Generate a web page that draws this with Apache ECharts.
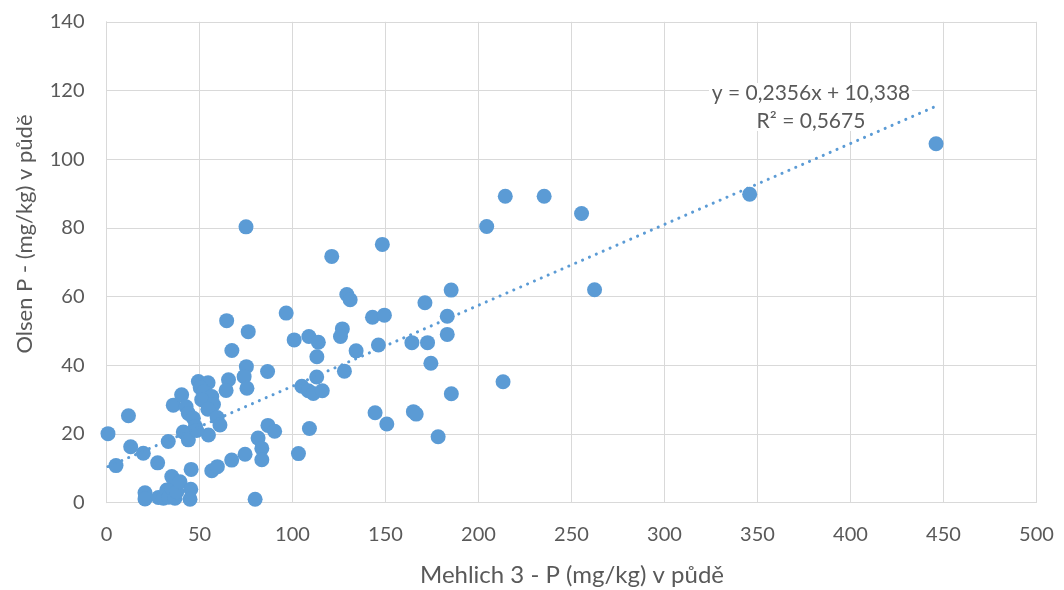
<!DOCTYPE html>
<html>
<head>
<meta charset="utf-8">
<script src="https://cdn.jsdelivr.net/npm/echarts@6/dist/echarts.min.js"></script>
<style>
  html, body { margin: 0; padding: 0; background: #ffffff; }
  #chart { width: 1064px; height: 590px; }
</style>
</head>
<body>
<div id="chart"></div>
<script>
// Mehlich 3 - P (x) and Olsen P (y), mg/kg, one entry per soil sample
const mehlichP = [
  0.8, 5.1, 11.8, 13.0, 19.8, 20.7, 20.7, 27.5, 27.9,
  30.6, 32.4, 33.5, 35.1, 36.8, 37.8, 35.1, 39.5, 45.3, 44.9, 45.5, 56.6, 59.6,
  33.2, 35.9, 40.4, 41.3, 44.0, 42.8, 44.0, 46.7, 47.8, 49.4, 54.6, 50.4, 52.2, 56.6, 51.2, 57.5, 54.5, 59.5, 61.0, 54.8, 48.5,
  64.6, 96.6, 76.2, 67.4, 75.2, 86.6, 74.0, 65.6, 64.3, 75.5, 75.0, 86.8, 90.4, 81.5, 83.5, 83.5, 74.5, 67.3, 79.9,
  100.9, 108.8, 113.9, 113.1, 113.0, 105.0, 108.5, 111.2, 116.0, 103.2, 109.1, 121.1, 129.2, 131.0, 126.8, 125.8, 127.9, 134.2, 143.0, 149.4, 146.2, 144.4, 150.7, 148.3,
  171.2, 164.2, 172.6, 174.4, 165.0, 166.5, 178.3, 183.2, 183.2, 185.3, 185.4, 204.4, 213.2, 214.4, 235.3, 255.4, 262.4, 345.8, 446.0
];
const olsenP = [
  20.1, 10.8, 25.3, 16.3, 14.4, 2.9, 1.1, 11.6, 1.5,
  1.3, 3.7, 1.6, 4.2, 1.3, 3.2, 7.6, 6.1, 3.9, 1.0, 9.7, 9.3, 10.5,
  17.8, 28.4, 31.4, 20.6, 18.3, 27.9, 26.0, 24.6, 22.2, 35.3, 34.9, 33.5, 32.2, 30.9, 30.0, 28.6, 27.2, 24.8, 22.6, 19.7, 21.0,
  53.0, 55.2, 49.8, 44.3, 39.6, 38.2, 36.7, 35.8, 32.7, 33.3, 80.3, 22.5, 20.8, 18.8, 15.8, 12.5, 14.1, 12.4, 1.0,
  47.4, 48.4, 46.7, 42.5, 36.6, 33.9, 32.6, 31.8, 32.6, 14.3, 21.6, 71.7, 60.6, 59.1, 50.6, 48.4, 38.3, 44.2, 54.0, 54.6, 45.9, 26.2, 22.9, 75.2,
  58.2, 46.6, 46.6, 40.6, 26.5, 25.8, 19.2, 54.3, 49.0, 61.9, 31.7, 80.4, 35.2, 89.2, 89.2, 84.2, 62.0, 89.8, 104.5
];

// Linear trend fitted to the samples
const trendSlope = 0.2356;
const trendIntercept = 10.338;
const trendR2 = 0.5675;

// Axis ranges and labels
const xTickValues = [0, 50, 100, 150, 200, 250, 300, 350, 400, 450, 500];
const yTickValues = [0, 20, 40, 60, 80, 100, 120, 140];
const xAxisTitle = 'Mehlich 3 - P (mg/kg) v půdě';
const yAxisTitle = 'Olsen P - (mg/kg) v půdě';

const points = mehlichP.map((x, i) => [x, olsenP[i]]);
const xMin = Math.min(...mehlichP);
const xMax = Math.max(...mehlichP);
const trendLine = [xMin, xMax].map(x => [x, trendSlope * x + trendIntercept]);
const decimalComma = v => String(v).replace('.', ',');
const equationText = 'y = ' + decimalComma(trendSlope) + 'x + ' + decimalComma(trendIntercept);
const r2Text = 'R² = ' + decimalComma(trendR2);

const FONT = 'Lato, "Open Sans", sans-serif';
const TEXT = '#595959';
const GRID = '#d9d9d9';
const BLUE = '#5b9bd5';

const chart = echarts.init(document.getElementById('chart'), null, { renderer: 'canvas' });
chart.setOption({
  animation: false,
  backgroundColor: '#ffffff',
  textStyle: { fontFamily: FONT },
  grid: { left: 106.5, right: 27.5, top: 21.8, bottom: 87.3, containLabel: false, outerBoundsMode: 'none' },
  xAxis: {
    type: 'value',
    min: xTickValues[0],
    max: xTickValues[xTickValues.length - 1],
    interval: xTickValues[1] - xTickValues[0],
    axisLine: { show: true, lineStyle: { color: GRID, width: 1 } },
    axisTick: { show: false },
    axisLabel: { color: TEXT, fontSize: 20, fontFamily: FONT, margin: 22 },
    splitLine: { show: true, lineStyle: { color: GRID, width: 1 } }
  },
  yAxis: {
    type: 'value',
    min: yTickValues[0],
    max: yTickValues[yTickValues.length - 1],
    interval: yTickValues[1] - yTickValues[0],
    axisLine: { show: true, lineStyle: { color: GRID, width: 1 } },
    axisTick: { show: false },
    axisLabel: { color: TEXT, fontSize: 20, fontFamily: FONT, margin: 22 },
    splitLine: { show: true, lineStyle: { color: GRID, width: 1 } }
  },
  series: [
    {
      type: 'scatter',
      data: points,
      symbol: 'circle',
      symbolSize: 15,
      itemStyle: { color: BLUE, opacity: 1 },
      z: 2
    },
    {
      type: 'line',
      data: trendLine,
      symbol: 'none',
      silent: true,
      lineStyle: { color: BLUE, width: 3, type: [0.1, 7.4], cap: 'round' },
      z: 3
    }
  ],
  graphic: [
    // white panel behind the trend equation, hiding the grid lines under it
    {
      type: 'rect', z: 1, silent: true,
      shape: { x: 709, y: 83, width: 203, height: 48 },
      style: { fill: '#ffffff' }
    },
    {
      type: 'text', x: 811, y: 93, z: 1, silent: true,
      style: { text: equationText, fill: TEXT, font: '21px ' + FONT, align: 'center', verticalAlign: 'middle' }
    },
    {
      type: 'text', x: 811, y: 121.5, z: 1, silent: true,
      style: { text: r2Text, fill: TEXT, font: '21px ' + FONT, align: 'center', verticalAlign: 'middle' }
    },
    {
      type: 'text', x: 572, y: 575, silent: true,
      style: { text: xAxisTitle, fill: TEXT, font: '24px ' + FONT, align: 'center', verticalAlign: 'middle' }
    },
    {
      type: 'text', x: 25, y: 234, rotation: Math.PI / 2, silent: true,
      style: { text: yAxisTitle, fill: TEXT, font: '22px ' + FONT, align: 'center', verticalAlign: 'middle' }
    }
  ]
});
</script>
</body>
</html>
